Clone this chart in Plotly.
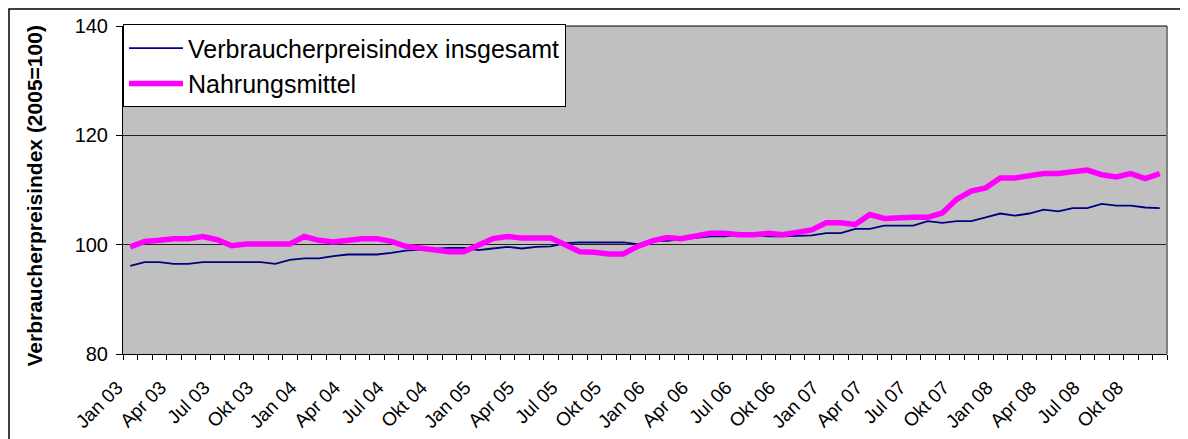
import plotly.graph_objects as go

months = [
    "Jan 03", "Feb 03", "Mär 03", "Apr 03", "Mai 03", "Jun 03", "Jul 03", "Aug 03", "Sep 03", "Okt 03", "Nov 03", "Dez 03",
    "Jan 04", "Feb 04", "Mär 04", "Apr 04", "Mai 04", "Jun 04", "Jul 04", "Aug 04", "Sep 04", "Okt 04", "Nov 04", "Dez 04",
    "Jan 05", "Feb 05", "Mär 05", "Apr 05", "Mai 05", "Jun 05", "Jul 05", "Aug 05", "Sep 05", "Okt 05", "Nov 05", "Dez 05",
    "Jan 06", "Feb 06", "Mär 06", "Apr 06", "Mai 06", "Jun 06", "Jul 06", "Aug 06", "Sep 06", "Okt 06", "Nov 06", "Dez 06",
    "Jan 07", "Feb 07", "Mär 07", "Apr 07", "Mai 07", "Jun 07", "Jul 07", "Aug 07", "Sep 07", "Okt 07", "Nov 07", "Dez 07",
    "Jan 08", "Feb 08", "Mär 08", "Apr 08", "Mai 08", "Jun 08", "Jul 08", "Aug 08", "Sep 08", "Okt 08", "Nov 08", "Dez 08",
]

tick_labels = ["Jan 03", "Apr 03", "Jul 03", "Okt 03", "Jan 04", "Apr 04", "Jul 04", "Okt 04",
               "Jan 05", "Apr 05", "Jul 05", "Okt 05", "Jan 06", "Apr 06", "Jul 06", "Okt 06",
               "Jan 07", "Apr 07", "Jul 07", "Okt 07", "Jan 08", "Apr 08", "Jul 08", "Okt 08"]

vpi_gesamt = [
    96.1, 96.8, 96.8, 96.5, 96.5, 96.8, 96.8, 96.8, 96.8, 96.8, 96.5, 97.2,
    97.5, 97.5, 97.9, 98.2, 98.2, 98.2, 98.5, 98.9, 99.1, 99.3, 99.4, 99.4,
    99.0, 99.3, 99.6, 99.3, 99.6, 99.7, 100.3, 100.4, 100.4, 100.4, 100.4, 100.1,
    100.7, 100.7, 101.0, 101.3, 101.5, 101.5, 101.8, 101.8, 101.5, 101.5, 101.6, 101.7,
    102.1, 102.1, 102.9, 102.9, 103.5, 103.5, 103.5, 104.3, 104.0, 104.3, 104.3, 105.0,
    105.7, 105.3, 105.7, 106.4, 106.1, 106.7, 106.7, 107.45, 107.15, 107.15, 106.8, 106.7,
]

nahrungsmittel = [
    99.6, 100.6, 100.8, 101.1, 101.1, 101.5, 100.9, 99.8, 100.1, 100.1, 100.1, 100.1,
    101.5, 100.8, 100.5, 100.8, 101.1, 101.1, 100.6, 99.7, 99.3, 98.9, 98.7, 98.7,
    99.8, 101.1, 101.5, 101.2, 101.2, 101.2, 100.0, 98.7, 98.6, 98.3, 98.3, 99.7,
    100.7, 101.3, 101.1, 101.5, 102.1, 102.1, 101.8, 101.8, 102.1, 101.8, 102.3, 102.7,
    104.0, 104.0, 103.7, 105.5, 104.8, 105.0, 105.0, 105.0, 105.8, 108.3, 109.8, 110.4,
    112.2, 112.2, 112.7, 113.0, 113.0, 113.3, 113.65, 112.8, 112.4, 113.0, 112.1, 113.0,
]

series_names = ["Verbraucherpreisindex insgesamt", "Nahrungsmittel"]
y_title = "Verbraucherpreisindex (2005=100)"

ticktext = [m if m in tick_labels else "" for m in months]

fig = go.Figure()
fig.add_trace(go.Scatter(x=months, y=vpi_gesamt, mode="lines", name=series_names[0],
                         line=dict(color="#000080", width=1.8)))
fig.add_trace(go.Scatter(x=months, y=nahrungsmittel, mode="lines", name=series_names[1],
                         line=dict(color="#FF00FF", width=5.5)))

FONT = "Liberation Sans, Arial, sans-serif"
# the page body has an 8px margin, figure is sized/offset to compensate
W, H = 1180, 431
L, R, T, B = 115, 21, 18, 85
PW = W - L - R
PH = H - T - B

fig.update_layout(
    width=W, height=H,
    margin=dict(l=L, r=R, t=T, b=B, autoexpand=False),
    paper_bgcolor="white",
    plot_bgcolor="#C0C0C0",
    font=dict(family=FONT, color="black"),
    showlegend=True,
    legend=dict(
        x=0, y=1.005, xanchor="left", yanchor="top",
        bgcolor="white", bordercolor="black", borderwidth=1,
        font=dict(size=25, family=FONT, color="black"),
        itemwidth=54,
    ),
    xaxis=dict(
        type="category", automargin=False,
        tickmode="array", tickvals=months, ticktext=ticktext,
        tickangle=-45, tickfont=dict(size=19),
        ticklabelstandoff=14, ticklabelshift=-13,
        ticks="outside", tickson="boundaries", ticklen=5, tickcolor="black",
        showgrid=False, showline=True, linecolor="black", linewidth=1,
        range=[-0.5, 71.5], zeroline=False,
    ),
    yaxis=dict(
        range=[80, 140], tickvals=[80, 100, 120, 140], automargin=False,
        tickfont=dict(size=20), ticks="outside", ticklen=6, tickcolor="black",
        ticklabelstandoff=4,
        showgrid=True, gridcolor="#202020", gridwidth=1,
        showline=True, linecolor="black", linewidth=1, zeroline=False,
    ),
)

# y-axis title
fig.add_annotation(text="<b>" + y_title + "</b>", xref="paper", yref="paper",
                   x=(27 - L) / PW, y=0.48, xanchor="center", yanchor="middle",
                   textangle=-90, showarrow=False, font=dict(size=21, family=FONT))

# plot area right border (grey) and top
fig.add_shape(type="line", xref="paper", yref="paper", x0=1, x1=1, y0=0, y1=1,
              line=dict(color="#808080", width=2))
fig.add_shape(type="line", xref="paper", yref="paper", x0=0, x1=1, y0=1, y1=1,
              line=dict(color="black", width=1))
# outer chart frame
fig.add_shape(type="rect", xref="paper", yref="paper",
              x0=(1 - L) / PW, x1=1.1, y0=-0.5, y1=1 + (T - 1) / PH,
              line=dict(color="black", width=1.5), layer="below")

fig.write_html("out.html")
